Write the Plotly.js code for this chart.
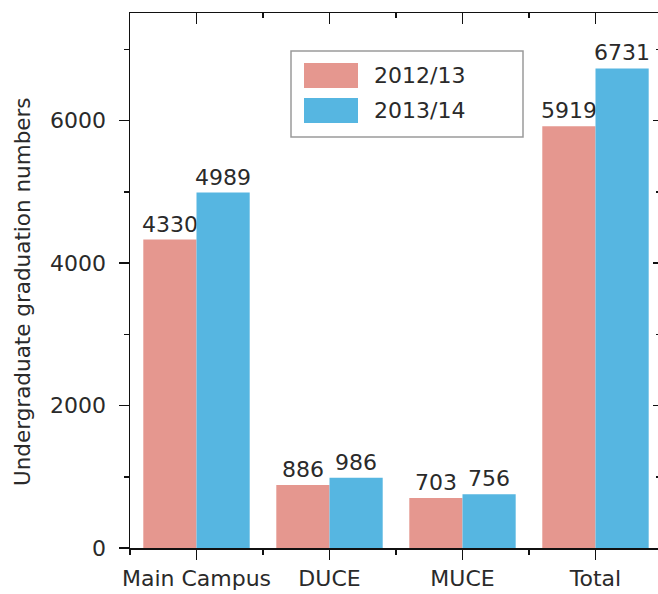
<!DOCTYPE html>
<html>
<head>
<meta charset="utf-8">
<script src="https://cdn.plot.ly/plotly-3.0.1.min.js"></script>
<style>html,body{margin:0;padding:0;background:#fff;}#chart{width:658px;height:594px;}</style>
</head>
<body>
<div id="chart"></div>
<script>
const categories = ['Main Campus', 'DUCE', 'MUCE', 'Total'];
const seriesNames = ['2012/13', '2013/14'];
const values2012 = [4330, 886, 703, 5919];
const values2013 = [4989, 986, 756, 6731];
const yTickVals = [0, 2000, 4000, 6000];
const yTitle = 'Undergraduate graduation numbers';

const colors = ['#E5978F', '#56B6E1'];
const FONT = 'DejaVu Sans, Liberation Sans, Arial, sans-serif';
const TXT = '#2a2a2a';
const XR = [-0.5, 3.47];
const YR = [0, 7510];

const seriesValues = [values2012, values2013];
const traces = seriesNames.map((name, i) => ({
  type: 'bar',
  name: name,
  x: categories,
  y: seriesValues[i],
  text: seriesValues[i].map(String),
  textposition: 'outside',
  constraintext: 'none',
  cliponaxis: false,
  textfont: {family: FONT, size: 22, color: TXT},
  marker: {color: colors[i], line: {width: 0}},
  hoverinfo: 'x+y+name'
}));
// invisible helper traces so that the frame axes (top, right, bottom minor ticks) are drawn
traces.push({type: 'scatter', mode: 'markers', x: [null], y: [null], xaxis: 'x2', yaxis: 'y',
  showlegend: false, hoverinfo: 'skip', marker: {opacity: 0}});
traces.push({type: 'scatter', mode: 'markers', x: [null], y: [null], xaxis: 'x3', yaxis: 'y2',
  showlegend: false, hoverinfo: 'skip', marker: {opacity: 0}});

// manual legend (large swatches like the reference)
const px = v => (v - 130) / 528;
const py = v => (548 - v) / 535;
const shapes = [
  {type: 'rect', xref: 'paper', yref: 'paper', x0: px(291), x1: px(523), y0: py(137), y1: py(51),
   line: {color: '#9a9a9a', width: 1.5}, fillcolor: 'rgba(255,255,255,0)'}
];
const annotations = [];
const swY = [[63, 88], [98, 123]];
seriesNames.forEach((name, i) => {
  shapes.push({type: 'rect', xref: 'paper', yref: 'paper', x0: px(304), x1: px(358),
    y0: py(swY[i][1]), y1: py(swY[i][0]), line: {width: 0}, fillcolor: colors[i]});
  annotations.push({xref: 'paper', yref: 'paper', x: px(372), y: py((swY[i][0] + swY[i][1]) / 2),
    xanchor: 'left', yanchor: 'middle', text: name, showarrow: false,
    font: {family: FONT, size: 22, color: TXT}});
});
// y-axis title
annotations.push({xref: 'paper', yref: 'paper', x: px(22), y: py(292), xanchor: 'center', yanchor: 'middle',
  textangle: -90, text: yTitle, showarrow: false, font: {family: FONT, size: 21.5, color: TXT}});

const layout = {
  width: 658, height: 594,
  margin: {l: 130, r: 0, t: 13, b: 46, pad: 0},
  paper_bgcolor: '#ffffff', plot_bgcolor: '#ffffff',
  font: {family: FONT, size: 22, color: TXT},
  showlegend: false,
  barmode: 'group',
  bargap: 0.2,
  bargroupgap: 0,
  xaxis: {
    type: 'category', range: XR, fixedrange: true,
    showline: true, linecolor: '#111', linewidth: 1.5,
    ticks: 'outside', ticklen: 10, tickwidth: 1.5, tickcolor: '#111',
    showgrid: false, zeroline: false,
    tickfont: {family: FONT, size: 22, color: TXT}
  },
  xaxis2: {
    overlaying: 'x', anchor: 'y', side: 'bottom', type: 'linear', range: XR,
    tickmode: 'linear', tick0: 0.5, dtick: 1,
    ticks: 'outside', ticklen: 6, tickwidth: 1.5, tickcolor: '#111',
    showticklabels: false, showline: false, showgrid: false, zeroline: false
  },
  xaxis3: {
    overlaying: 'x', anchor: 'y2', side: 'top', type: 'linear', range: XR,
    tickmode: 'linear', tick0: 0, dtick: 1,
    ticks: 'inside', ticklen: 11, tickwidth: 1.5, tickcolor: '#111',
    minor: {tickmode: 'linear', tick0: 0.5, dtick: 1, ticks: 'inside', ticklen: 5, tickwidth: 1.5, tickcolor: '#111'},
    showticklabels: false, showline: true, linecolor: '#111', linewidth: 1.5,
    showgrid: false, zeroline: false
  },
  yaxis: {
    range: YR, fixedrange: true,
    tickmode: 'array', tickvals: yTickVals,
    ticks: 'outside', ticklen: 10, tickwidth: 1.5, tickcolor: '#111',
    minor: {tickmode: 'linear', tick0: 0, dtick: 1000, ticks: 'outside', ticklen: 5, tickwidth: 1.5, tickcolor: '#111'},
    ticklabelstandoff: 8,
    showline: true, linecolor: '#111', linewidth: 1.5,
    showgrid: false, zeroline: false,
    tickfont: {family: FONT, size: 22, color: TXT}
  },
  yaxis2: {
    overlaying: 'y', anchor: 'x3', side: 'right', range: YR,
    tickmode: 'linear', tick0: 0, dtick: 2000,
    ticks: 'inside', ticklen: 5, tickwidth: 1.5, tickcolor: '#111',
    minor: {tickmode: 'linear', tick0: 0, dtick: 1000, ticks: 'inside', ticklen: 2, tickwidth: 1.5, tickcolor: '#111'},
    showticklabels: false, showline: false, showgrid: false, zeroline: false
  },
  shapes: shapes,
  annotations: annotations
};

Plotly.newPlot('chart', traces, layout, {displayModeBar: false, staticPlot: true});
</script>
</body>
</html>
